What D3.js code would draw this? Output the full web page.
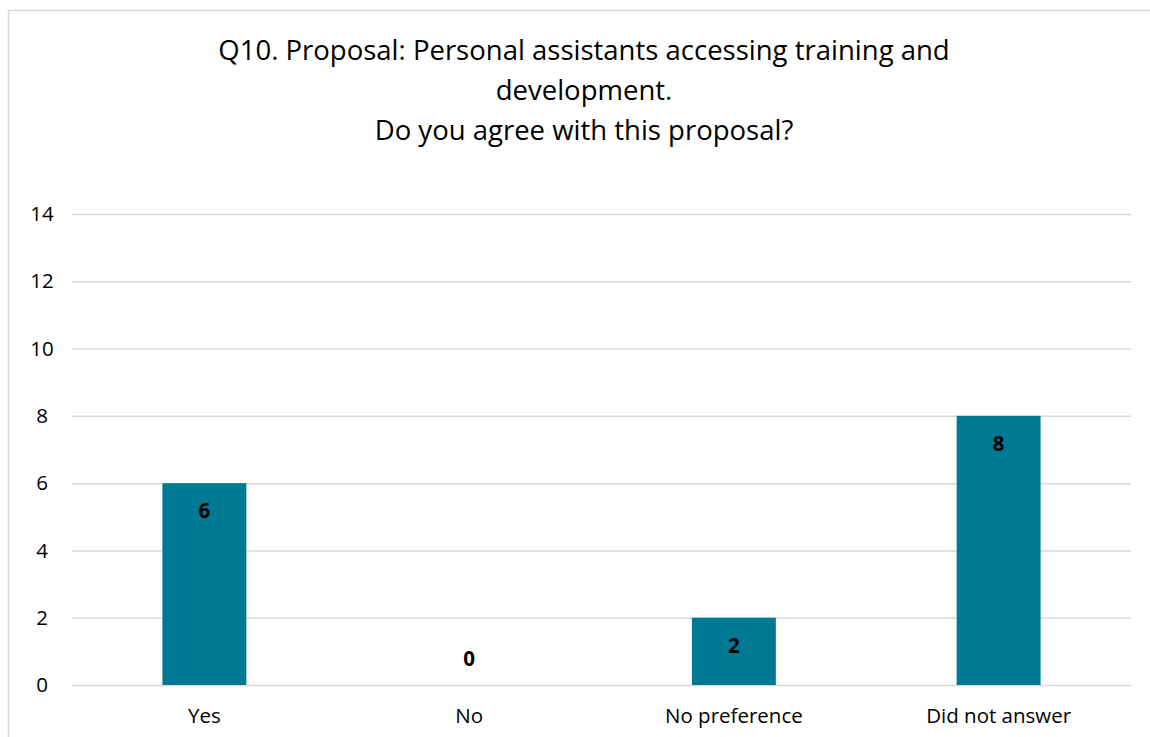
<!DOCTYPE html>
<html>
<head>
<meta charset="utf-8">
<script src="https://cdn.jsdelivr.net/npm/d3@7"></script>
<style>
  body { margin: 0; background: #fff; }
  svg { display: block; font-family: "Open Sans", "Noto Sans", sans-serif; }
</style>
</head>
<body>
<div id="chart"></div>
<script>
const categories = ["Yes", "No", "No preference", "Did not answer"];
const counts = [6, 0, 2, 8];
const yTicks = [0, 2, 4, 6, 8, 10, 12, 14];
const titleLines = [
  "Q10. Proposal: Personal assistants accessing training and",
  "development.",
  "Do you agree with this proposal?"
];

const width = 1150, height = 737;
const margin = {left: 72, right: 19, top: 214, bottom: 52};

const svg = d3.select("#chart").append("svg")
  .attr("width", width)
  .attr("height", height);

// chart frame (open on the right and bottom)
svg.append("path")
  .attr("d", `M8.5 ${height} V10.5 H${width}`)
  .attr("fill", "none")
  .attr("stroke", "#d9d9d9")
  .attr("stroke-width", 1.5);

svg.append("g")
  .selectAll("text")
  .data(titleLines)
  .join("text")
  .attr("x", 584)
  .attr("y", (d, i) => 60 + i * 40)
  .attr("text-anchor", "middle")
  .attr("font-size", 27.5)
  .attr("fill", "#000")
  .text(d => d);

const x = d3.scaleBand()
  .domain(categories)
  .range([margin.left, width - margin.right])
  .paddingInner(0.683)
  .paddingOuter(0.3415);

const y = d3.scaleLinear()
  .domain([0, 14])
  .range([height - margin.bottom, margin.top]);

// gridlines
svg.append("g")
  .selectAll("line")
  .data(yTicks)
  .join("line")
  .attr("x1", margin.left)
  .attr("x2", width - margin.right)
  .attr("y1", d => y(d) + 0.5)
  .attr("y2", d => y(d) + 0.5)
  .attr("stroke", "#d9d9d9")
  .attr("stroke-width", 1.5);

// y labels
svg.append("g")
  .selectAll("text")
  .data(yTicks)
  .join("text")
  .attr("x", 42)
  .attr("y", d => y(d))
  .attr("dy", "0.35em")
  .attr("text-anchor", "middle")
  .attr("font-size", 20.5)
  .attr("fill", "#000")
  .text(d => d);

const rows = categories.map((c, i) => ({cat: c, val: counts[i]}));

svg.append("g")
  .selectAll("rect")
  .data(rows)
  .join("rect")
  .attr("x", d => x(d.cat))
  .attr("width", x.bandwidth())
  .attr("y", d => y(d.val))
  .attr("height", d => y(0) - y(d.val))
  .attr("fill", "#007a94");

// value labels: inside the bar top, or above the baseline for an empty bar
svg.append("g")
  .selectAll("text")
  .data(rows)
  .join("text")
  .attr("x", d => x(d.cat) + x.bandwidth() / 2)
  .attr("y", d => d.val > 0 ? y(d.val) + 28 : y(0) - 26)
  .attr("dy", "0.35em")
  .attr("text-anchor", "middle")
  .attr("font-size", 20.5)
  .attr("font-weight", "bold")
  .attr("fill", "#000")
  .text(d => d.val);

// category labels
svg.append("g")
  .selectAll("text")
  .data(categories)
  .join("text")
  .attr("x", d => x(d) + x.bandwidth() / 2)
  .attr("y", height - margin.bottom + 31)
  .attr("dy", "0.35em")
  .attr("text-anchor", "middle")
  .attr("font-size", 20.5)
  .attr("fill", "#000")
  .text(d => d);
</script>
</body>
</html>
